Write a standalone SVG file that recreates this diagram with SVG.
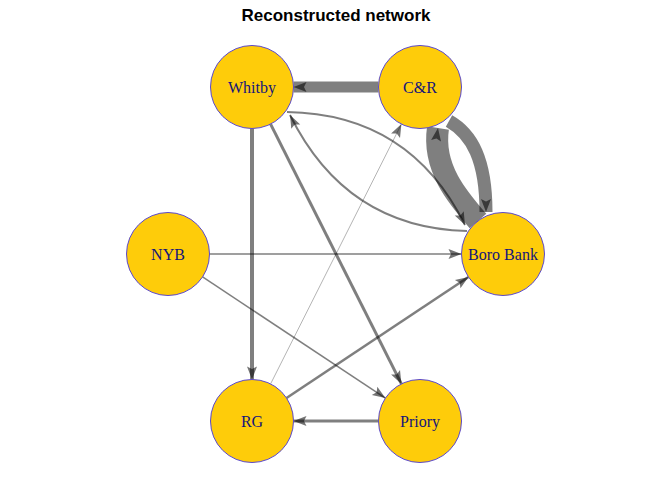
<svg xmlns="http://www.w3.org/2000/svg" width="672" height="480" viewBox="0 0 672 480">
<style>
.e{fill:none;stroke:#000;stroke-opacity:0.5;marker-end:url(#ah)}
.n circle{fill:#FECC0A;stroke:#5A48CC;stroke-width:1}
.n text{font-family:"Liberation Serif","Times New Roman",serif;font-size:16px;fill:#14147A;text-anchor:middle}
.title{font-family:"Liberation Sans",Arial,sans-serif;font-size:17px;font-weight:bold;fill:#000;text-anchor:middle}
</style>
<defs>
<marker id="ah" markerUnits="userSpaceOnUse" markerWidth="16" markerHeight="12" refX="14" refY="6" orient="auto" overflow="visible">
<path d="M14,6 L1,1 L3.5,6 L1,11 Z" fill="#000" fill-opacity="0.55"/>
</marker>
</defs>
<rect width="672" height="480" fill="#fff"/>
<text class="title" x="336" y="21">Reconstructed network</text>
<g id="edges">
<path id="e-CR-Whitby" class="e" d="M378.5,87 L293.5,87" stroke-width="11"/>
<path id="e-Whitby-RG" class="e" d="M252,128.5 L252,379.5" stroke-width="4"/>
<path id="e-Whitby-Priory" class="e" d="M270.6,124.1 L401.4,383.9" stroke-width="3"/>
<path id="e-NYB-Boro" class="e" d="M209.5,254 L461.5,254" stroke-width="1.6"/>
<path id="e-NYB-Priory" class="e" d="M202.6,276.9 L385.4,398.1" stroke-width="1.5"/>
<path id="e-RG-Boro" class="e" d="M286.5,398 L468.5,277" stroke-width="2.6"/>
<path id="e-Priory-RG" class="e" d="M378.5,421 L293.5,421" stroke-width="3"/>
<path id="e-RG-CR" class="e" d="M270.6,383.9 L401.4,124.1" stroke-width="0.6" stroke-opacity="0.3"/>
<path id="e-Whitby-Boro" class="e" d="M287,112 Q410,114 465,225" stroke-width="2"/>
<path id="e-Boro-Whitby" class="e" d="M467,231 Q346,228 290,115" stroke-width="2"/>
<path id="e-Boro-CR" class="e" d="M478,221 C458,198 432,168 438,128" stroke-width="22"/>
<path id="e-CR-Boro" class="e" d="M449,121 C472,134 486,160 486,212" stroke-width="13"/>
</g>
<g id="node-Whitby" class="n"><circle cx="252" cy="87" r="41.5"/><text x="252" y="92.5">Whitby</text></g>
<g id="node-CR" class="n"><circle cx="420" cy="87" r="41.5"/><text x="420" y="92.5">C&amp;R</text></g>
<g id="node-NYB" class="n"><circle cx="168" cy="254" r="41.5"/><text x="168" y="259.5">NYB</text></g>
<g id="node-Boro" class="n"><circle cx="503" cy="254" r="41.5"/><text x="503" y="259.5">Boro Bank</text></g>
<g id="node-RG" class="n"><circle cx="252" cy="421" r="41.5"/><text x="252" y="426.5">RG</text></g>
<g id="node-Priory" class="n"><circle cx="420" cy="421" r="41.5"/><text x="420" y="426.5">Priory</text></g>
</svg>
